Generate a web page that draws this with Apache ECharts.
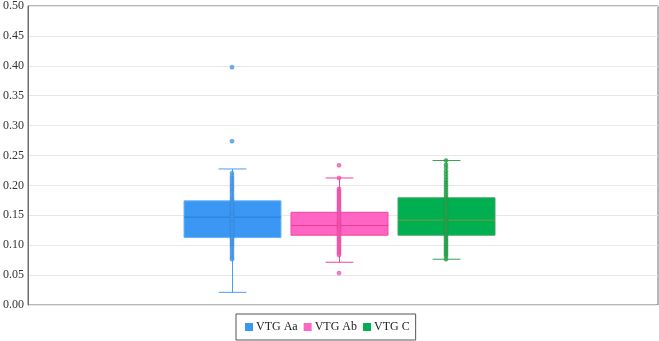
<!DOCTYPE html>
<html>
<head>
<meta charset="utf-8">
<script src="https://cdn.jsdelivr.net/npm/echarts@6/dist/echarts.min.js"></script>
<style>
  html, body { margin: 0; padding: 0; background: #fff; }
  #chart { width: 659px; height: 341px; }
</style>
</head>
<body>
<div id="chart"></div>
<script>
// groups and box stats: [min, q1, median, q3, max]
const groups = ["VTG Aa", "VTG Ab", "VTG C"];
const boxAa = [0.021, 0.112, 0.146, 0.173, 0.226];
const boxAb = [0.071, 0.116, 0.132, 0.154, 0.211];
const boxC = [0.076, 0.116, 0.141, 0.178, 0.240];

// individual points
const ptsAa = [0.395, 0.272, 0.219, 0.214, 0.210, 0.206, 0.202, 0.198, 0.195, 0.191, 0.188, 0.184,
  0.180, 0.177, 0.174, 0.171, 0.168, 0.165, 0.162, 0.159, 0.156, 0.153, 0.150, 0.148, 0.146,
  0.143, 0.140, 0.137, 0.134, 0.131, 0.128, 0.125, 0.122, 0.119, 0.116, 0.113, 0.110, 0.107,
  0.104, 0.101, 0.098, 0.095, 0.091, 0.087, 0.083, 0.079, 0.076];
const ptsAb = [0.232, 0.211, 0.193, 0.190, 0.187, 0.184, 0.181, 0.178, 0.175, 0.172, 0.169, 0.166,
  0.163, 0.160, 0.157, 0.154, 0.151, 0.148, 0.145, 0.142, 0.139, 0.137, 0.135, 0.133, 0.131,
  0.129, 0.127, 0.125, 0.122, 0.119, 0.116, 0.113, 0.110, 0.107, 0.104, 0.101, 0.098, 0.095,
  0.092, 0.089, 0.086, 0.083, 0.053];
const ptsC = [0.240, 0.233, 0.228, 0.222, 0.217, 0.212, 0.207, 0.203, 0.199, 0.195, 0.191, 0.187,
  0.183, 0.179, 0.175, 0.171, 0.167, 0.163, 0.159, 0.155, 0.151, 0.147, 0.144, 0.141, 0.138,
  0.135, 0.132, 0.129, 0.126, 0.123, 0.120, 0.117, 0.114, 0.111, 0.108, 0.105, 0.102, 0.099,
  0.096, 0.093, 0.090, 0.087, 0.084, 0.081, 0.076];

const yTicks = [0, 0.05, 0.1, 0.15, 0.2, 0.25, 0.3, 0.35, 0.4, 0.45, 0.5];

const styles = [
  { fill: "#3a97f3", border: "#6ab2f7", median: "#2a7fd4", whisker: "#4a9ff0", dot: "#4a9cee", dotBorder: "#2a80d8" },
  { fill: "#ff66c4", border: "#f0449f", median: "#e8409b", whisker: "#f0449f", dot: "#f45cb2", dotBorder: "#e8389a" },
  { fill: "#00b050", border: "#3aa060", median: "#7a9a3a", whisker: "#3aa050", dot: "#2aa850", dotBorder: "#1a9040" },
];
const boxes = [boxAa, boxAb, boxC];
const points = [ptsAa, ptsAb, ptsC];

const chart = echarts.init(document.getElementById("chart"));
const font = "'Liberation Serif', 'Times New Roman', serif";

function renderBox(params, api) {
  const x = api.value(0);
  const lo = api.coord([x, api.value(1)]);
  const q1 = api.coord([x, api.value(2)]);
  const med = api.coord([x, api.value(3)]);
  const q3 = api.coord([x, api.value(4)]);
  const hi = api.coord([x, api.value(5)]);
  const band = api.size([1, 0])[0];
  const half = band * 0.453;
  const cap = band * 0.13;
  const s = styles[params.seriesIndex];
  const cx = Math.round(lo[0]) + 0.5;
  return {
    type: "group",
    children: [
      { type: "line", shape: { x1: cx, y1: hi[1], x2: cx, y2: lo[1] }, style: { stroke: s.whisker, lineWidth: 1 } },
      { type: "line", shape: { x1: cx - cap, y1: hi[1], x2: cx + cap, y2: hi[1] }, style: { stroke: s.whisker, lineWidth: 1 } },
      { type: "line", shape: { x1: cx - cap, y1: lo[1], x2: cx + cap, y2: lo[1] }, style: { stroke: s.whisker, lineWidth: 1 } },
      { type: "rect", shape: { x: cx - half, y: q3[1], width: half * 2, height: q1[1] - q3[1] }, style: { fill: s.fill, stroke: s.border, lineWidth: 1 } },
      { type: "line", shape: { x1: cx - half, y1: med[1], x2: cx + half, y2: med[1] }, style: { stroke: s.median, lineWidth: 1 } },
    ],
  };
}

const series = [];
groups.forEach((g, i) => {
  series.push({
    name: g,
    type: "custom",
    xAxisIndex: 1,
    yAxisIndex: 1,
    itemStyle: { color: styles[i].fill },
    renderItem: renderBox,
    encode: { x: 0, y: [1, 2, 3, 4, 5] },
    data: [[i].concat(boxes[i])],
    z: 2,
  });
});
groups.forEach((g, i) => {
  series.push({
    name: g,
    type: "scatter",
    xAxisIndex: 1,
    yAxisIndex: 1,
    symbol: "circle",
    symbolSize: 4,
    itemStyle: { color: styles[i].dot, borderColor: styles[i].dotBorder, borderWidth: 0.6 },
    data: points[i].map((v) => [i, v]),
    z: 3,
  });
});

chart.setOption({
  animation: false,
  textStyle: { fontFamily: font },
  grid: [
    { left: 27, right: 1, top: 4, bottom: 36, show: true, borderColor: "#6e6e6e", borderWidth: 1, z: 0 },
    { left: 178.5, width: 321, top: 4, bottom: 36 },
  ],
  xAxis: [
    { gridIndex: 0, type: "category", data: [""], show: false },
    { gridIndex: 1, type: "category", data: groups, show: false },
  ],
  yAxis: [
    {
      gridIndex: 0, type: "value", min: 0, max: 0.5, interval: 0.05,
      axisLine: { show: true, lineStyle: { color: "#6e6e6e" } },
      axisTick: { show: false },
      axisLabel: { color: "#333", fontSize: 12, fontFamily: font, margin: 4,
        formatter: (v) => (yTicks.some((t) => Math.abs(t - v) < 1e-9) ? v.toFixed(2) : "") },
      splitLine: { show: true, lineStyle: { color: "#e8e8e8", width: 1 } },
    },
    { gridIndex: 1, type: "value", min: 0, max: 0.5, show: false },
  ],
  legend: {
    data: groups,
    left: 236,
    top: 314,
    itemWidth: 8,
    itemHeight: 8,
    itemGap: 6,
    padding: [7, 6, 7, 9],
    borderColor: "#555",
    borderWidth: 1,
    icon: "rect",
    textStyle: { fontFamily: font, fontSize: 12, color: "#222", padding: [0, 0, 0, -2] },
  },
  series: series,
});
</script>
</body>
</html>
